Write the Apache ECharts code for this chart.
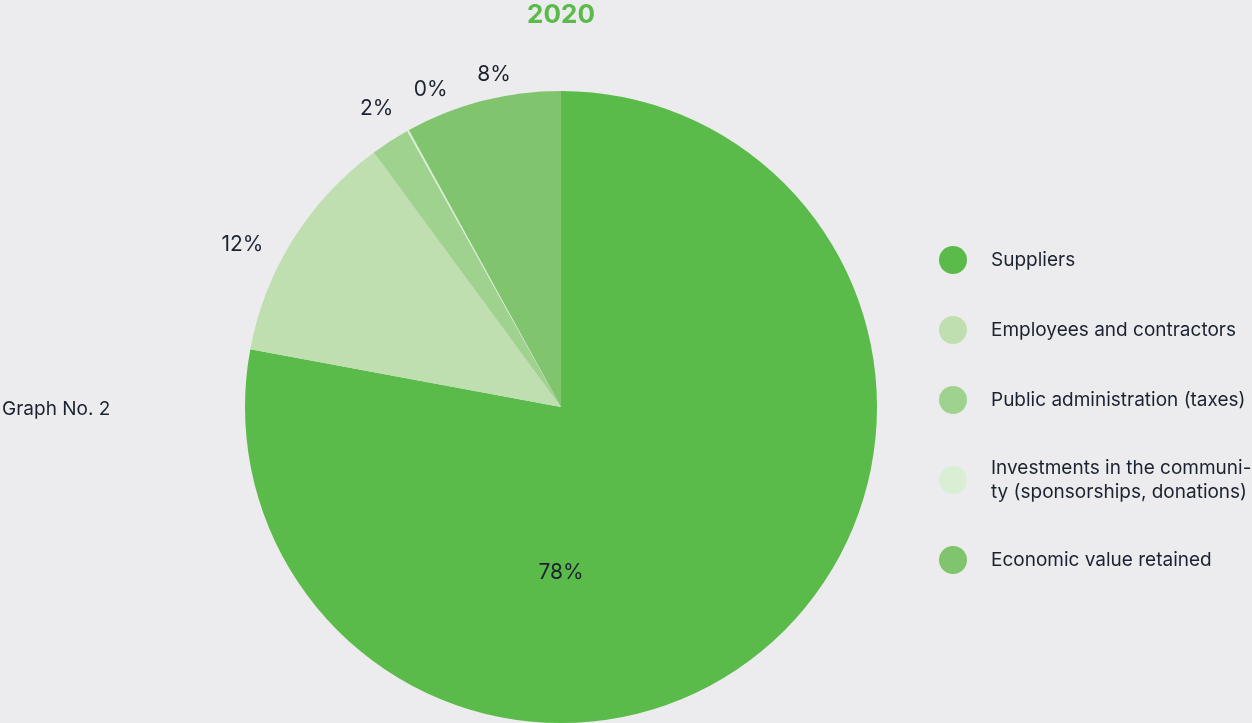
<!DOCTYPE html>
<html>
<head>
<meta charset="utf-8">
<script src="https://cdn.jsdelivr.net/npm/echarts@6/dist/echarts.min.js"></script>
<style>
  html, body { margin: 0; padding: 0; background: #ececee; }
  #chart { width: 1252px; height: 723px; }
</style>
</head>
<body>
<div id="chart"></div>
<script>
// Distribution of economic value, 2020 (percent of the total)
const categories = [
  'Suppliers',
  'Employees and contractors',
  'Public administration (taxes)',
  'Investments in the communi-\nty (sponsorships, donations)',
  'Economic value retained'
];
const shares = [78, 12, 2, 0.1, 8];
const colors = ['#5bbb4a', '#c0dfb0', '#a0d28f', '#daeed3', '#80c56d'];

const textColor = '#1b2230';
const fontFamily = 'Inter, "Noto Sans", sans-serif';

// small nudges so the outside labels sit clear of each other
const labelNudge = {
  1: [-22, 24],
  2: [5, -4],
  3: [39, -11],
  4: [20, 7]
};

const chart = echarts.init(document.getElementById('chart'), null, { renderer: 'canvas' });

const pieData = categories.map((name, i) => {
  const item = { name, value: shares[i], itemStyle: { color: colors[i] } };
  if (i === 0) {
    // the largest share is labelled inside the slice, below the centre
    item.label = { position: 'center', offset: [0, 166] };
  } else if (labelNudge[i]) {
    item.label = { offset: labelNudge[i] };
  }
  return item;
});

chart.setOption({
  backgroundColor: '#ececee',
  animation: false,
  title: {
    text: '2020',
    left: 556,
    textAlign: 'center',
    top: -3,
    textStyle: { color: '#5bbb4a', fontSize: 26, fontWeight: 'bold', fontFamily }
  },
  graphic: [{
    type: 'text',
    left: 2,
    top: 400,
    style: { text: 'Graph No. 2', fill: textColor, font: '19px ' + fontFamily }
  }],
  legend: {
    orient: 'vertical',
    left: 934,
    top: 241,
    icon: 'circle',
    itemWidth: 28,
    itemHeight: 28,
    itemGap: 42,
    selectedMode: false,
    itemStyle: { borderWidth: 0 },
    textStyle: { color: textColor, fontSize: 19, lineHeight: 24, fontFamily, padding: [0, 0, 0, 19] },
    data: categories
  },
  series: [{
    type: 'pie',
    center: [561, 407],
    radius: [0, 316],
    startAngle: 90,
    clockwise: true,
    avoidLabelOverlap: false,
    itemStyle: { borderWidth: 0 },
    label: {
      show: true,
      position: 'outside',
      formatter: (p) => Math.round(p.value) + '%',
      color: textColor,
      fontSize: 21,
      fontFamily,
      distanceToLabelLine: 0
    },
    labelLine: { show: false, length: 34, length2: 0 },
    labelLayout: { align: 'center' },
    emphasis: { disabled: true },
    data: pieData
  }]
});
</script>
</body>
</html>
